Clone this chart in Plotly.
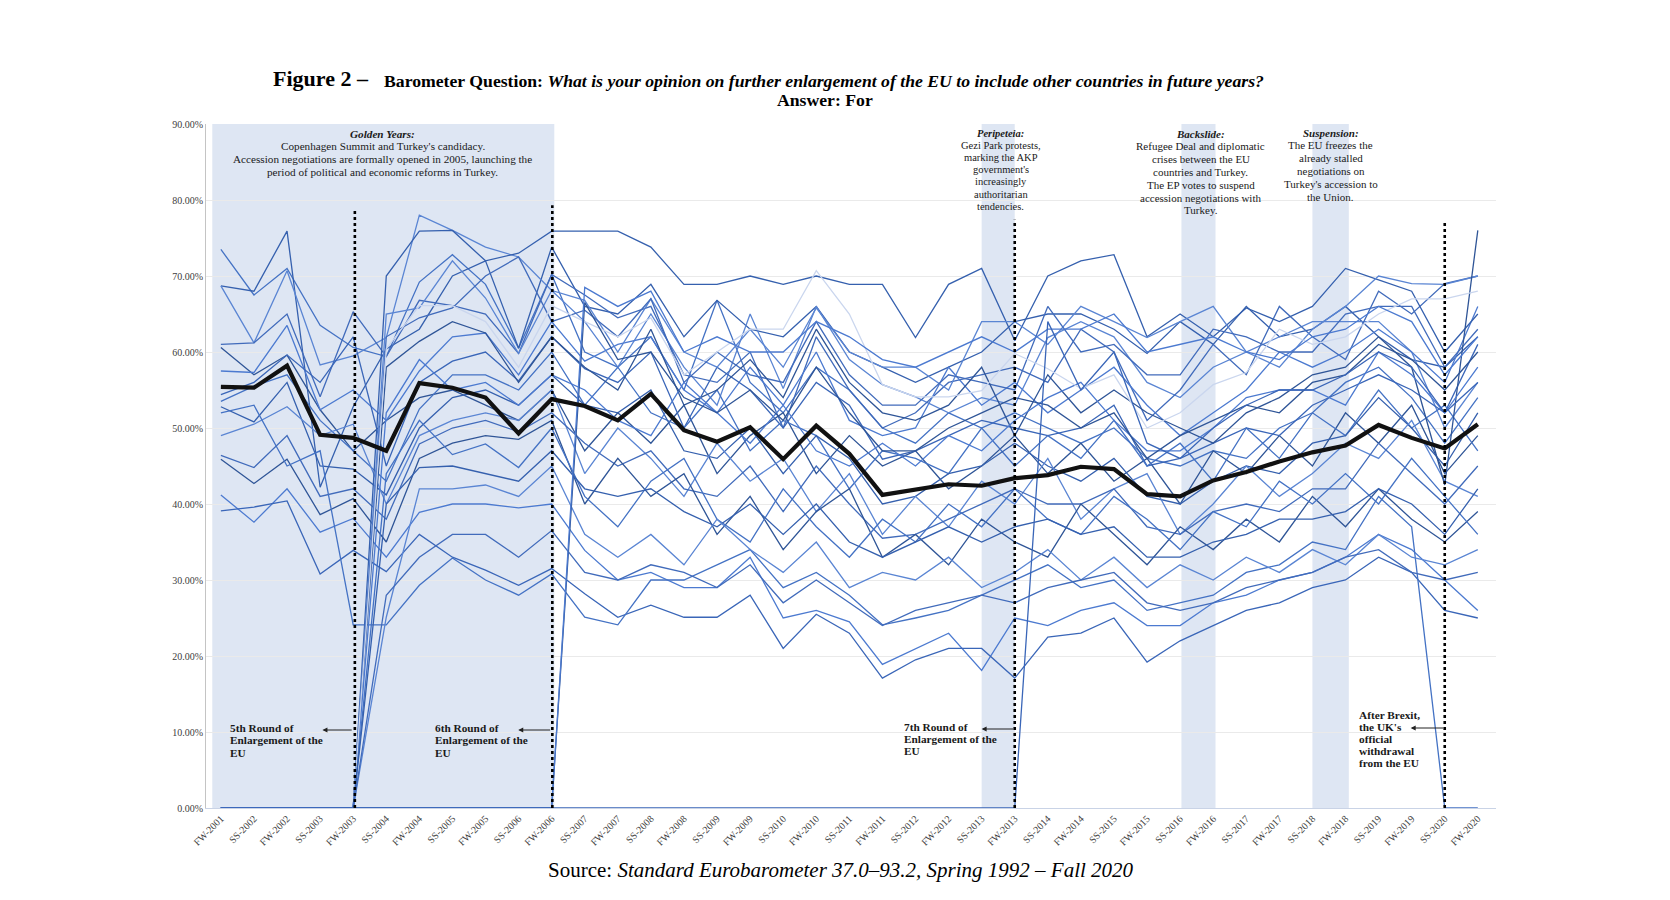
import plotly.graph_objects as go

periods = ["FW-2001","SS-2002","FW-2002","SS-2003","FW-2003","SS-2004","FW-2004","SS-2005","FW-2005","SS-2006",
           "FW-2006","SS-2007","FW-2007","SS-2008","FW-2008","SS-2009","FW-2009","SS-2010","FW-2010","SS-2011",
           "FW-2011","SS-2012","FW-2012","SS-2013","FW-2013","SS-2014","FW-2014","SS-2015","FW-2015","SS-2016",
           "FW-2016","SS-2017","FW-2017","SS-2018","FW-2018","SS-2019","FW-2019","SS-2020","FW-2020"]

# EU average ("For", %)
eu_average = [55.4,55.3,58.2,49.1,48.7,47.0,55.9,55.3,54.0,49.3,53.8, 52.9,51.0,54.5,49.7,48.2,50.1,45.9,50.3,46.6,41.2,
              41.9,42.6,42.4,43.4,43.8,44.9,44.6,41.3,41.0,43.1, 44.2,45.6,46.8,47.7,50.4,48.7,47.3,50.5]

# EU-15 member states
eu15_a = [73.5,67.5,71.0,63.5,60.6,59.4,69.2,72.8,68.9,60.5,70.2, 60.0,58.0,62.0,55.0,66.8,56.0,52.0,58.0,55.0,50.0, 48.0,52.0,50.0,52.0,50.0,48.0,50.0,46.0,45.0,47.0, 46.0,50.0,52.0,56.0,58.0,54.0,48.0,54.0]
eu15_b = [68.7,68.0,75.9,42.2,52.8,60.4,63.0,70.0,72.0,60.5,73.8, 66.0,65.0,68.9,62.0,66.8,63.0,62.0,66.0,60.0,58.0, 56.0,58.0,60.0,64.0,65.0,65.0,63.0,59.8,64.0,61.0, 66.0,62.0,63.0,66.0,62.0,59.0,58.0,62.0]
eu15_c = [68.7,61.2,70.7,58.3,59.5,61.9,78.0,76.0,73.8,72.5,68.1, 64.0,58.0,65.0,58.0,53.0,65.0,55.2,66.0,59.0,55.7, 54.1,52.0,54.0,53.0,61.9,64.0,62.0,56.0,54.0,58.0, 60.0,62.0,64.0,64.0,64.0,60.0,50.0,56.0]
eu15_d = [61.0,61.2,65.0,54.1,65.3,59.4,66.8,66.1,65.0,59.8,70.2, 67.5,64.5,66.0,57.0,56.0,60.0,50.0,62.0,55.0,50.0, 52.0,56.0,57.0,58.0,56.0,63.0,60.0,51.0,55.0,61.0, 57.0,66.0,62.0,59.0,68.0,65.0,69.0,70.0]
eu15_e = [60.6,57.0,59.6,52.4,47.0,51.0,54.0,55.0,53.0,51.0,55.0, 47.0,52.0,48.0,53.0,44.0,49.0,52.0,44.0,49.0,45.0, 47.0,42.0,45.0,49.0,44.0,48.0,43.0,46.0,40.0,47.0, 44.0,49.0,45.0,52.0,48.0,53.0,44.0,49.0]
eu15_f = [57.5,57.3,63.5,52.4,55.0,51.0,57.5,62.0,62.5,57.0,64.0, 58.8,61.0,62.0,55.0,52.0,58.0,53.0,60.0,51.0,49.0, 50.0,58.0,53.0,56.0,52.0,55.0,58.0,53.0,49.0,52.0, 55.0,60.0,58.0,60.0,63.0,60.0,56.0,66.0]
eu15_g = [54.4,56.0,59.6,56.0,62.0,45.0,56.0,58.8,60.0,56.2,62.0, 57.8,56.0,60.0,50.0,58.0,55.0,50.0,56.0,53.0,45.9, 47.0,49.0,51.0,50.0,49.0,50.0,53.0,45.0,46.0,48.0, 50.0,49.0,53.0,55.0,57.0,55.0,52.0,61.0]
eu15_h = [53.5,55.5,57.0,51.0,47.0,43.0,52.5,57.0,57.0,55.0,60.0, 53.0,58.0,52.0,50.0,55.0,47.0,51.0,49.0,42.0,47.0, 46.0,44.0,50.0,45.0,49.0,46.0,51.0,45.0,48.0,43.0, 50.0,46.0,52.0,49.0,55.0,50.0,53.0,47.0]
eu15_i = [52.8,50.8,56.0,45.0,44.6,41.2,50.0,54.0,55.0,53.0,57.0, 53.0,52.0,55.0,47.0,46.0,50.0,44.0,49.0,46.0,40.0, 41.0,44.0,45.0,48.0,45.0,43.0,46.0,41.0,40.0,43.0, 45.0,44.0,48.0,49.0,54.0,50.0,45.0,52.0]
eu15_j = [49.0,50.5,52.8,49.0,50.5,40.0,49.0,51.0,52.0,51.0,55.0, 44.0,50.0,46.0,41.0,48.0,43.0,46.0,39.0,44.0,36.0, 41.0,37.0,43.0,40.0,46.0,38.0,42.0,44.0,36.0,40.0, 45.0,41.0,44.0,48.0,46.0,51.0,43.0,41.0]
eu15_k = [46.4,44.8,49.0,41.0,42.0,38.0,47.9,50.0,51.0,49.5,52.0, 48.0,45.0,47.0,42.0,41.0,45.0,39.0,45.0,40.0,35.5, 36.0,38.0,40.0,42.0,40.0,40.0,42.0,37.0,36.0,39.0, 40.0,39.0,42.0,42.0,48.0,44.0,40.0,45.0]
eu15_l = [45.9,42.7,45.9,38.6,40.7,35.0,46.0,48.0,49.0,48.5,51.0, 40.0,46.0,41.0,44.0,36.0,41.0,34.0,39.0,42.0,33.0, 36.0,32.0,38.0,35.0,33.0,40.0,36.0,32.0,37.0,34.0, 38.0,35.0,41.0,37.0,42.0,38.0,35.0,39.0]
eu15_m = [41.2,37.6,42.0,36.3,38.1,33.0,38.9,40.0,40.0,39.5,40.0, 33.9,30.0,31.0,29.0,29.0,33.0,25.0,26.0,24.5,18.9, 21.0,23.0,18.1,25.0,24.0,26.0,27.0,24.0,24.0,27.0, 28.0,30.0,31.0,33.0,36.0,34.0,30.0,26.0]
eu15_n = [39.1,39.6,40.4,30.8,33.9,31.1,36.0,33.0,31.3,29.3,31.5, 28.2,25.1,26.7,25.1,25.1,28.0,21.0,25.5,23.0,17.1, 19.5,21.0,21.0,17.1,22.5,23.0,25.0,19.2,22.0,24.0, 26.0,27.0,29.0,30.0,33.0,31.0,26.0,25.0]
united_kingdom = [52.0,53.0,45.0,47.0,24.1,24.1,29.3,32.9,30.0,28.0,30.8, 25.1,24.1,30.0,30.0,32.0,34.0,29.0,31.0,28.0,24.1, 25.0,26.0,28.0,30.0,32.0,29.0,30.0,26.0,27.0,28.0, 31.0,32.0,35.0,34.0,41.0,37.0,0.0,0.0]

# 2004 enlargement members (0 before accession)
nm_a = [0,0,0,0,0,70.0,75.9,76.0,72.0,73.0,75.9, 75.9,75.9,73.8,68.9,68.9,70.0,68.9,70.0,68.9,68.9, 61.9,68.9,71.0,61.5,70.0,72.0,72.8,62.0,65.0,62.0, 65.8,64.0,66.0,71.0,69.5,68.0,60.0,65.0]
nm_b = [0,0,0,0,0,65.0,65.8,72.0,67.1,59.8,68.1, 66.8,60.0,67.0,60.0,58.0,63.0,58.0,65.8,60.0,58.0, 58.0,55.0,64.0,64.0,61.0,66.0,64.0,61.9,64.0,66.0, 60.0,58.0,63.0,66.0,70.0,69.0,68.9,70.0]
nm_c = [0,0,0,0,0,62.0,64.5,65.8,70.0,72.5,64.0, 65.5,62.0,67.0,56.0,60.0,57.0,56.0,64.0,57.0,53.0, 53.0,57.0,56.0,55.0,66.0,60.0,61.0,57.0,57.0,63.0, 62.0,60.0,60.0,65.0,66.0,66.0,58.0,63.0]
nm_d = [0,0,0,0,0,58.0,61.4,64.0,62.5,56.0,62.0, 58.0,55.0,63.0,53.0,55.0,59.0,54.0,63.0,56.0,52.0, 51.0,53.0,58.0,49.0,57.0,52.0,55.0,52.0,50.0,48.0, 52.0,54.0,57.0,58.0,62.0,58.0,42.5,76.0]
nm_e = [0,0,0,0,0,52.0,59.0,55.0,56.0,53.0,57.0, 55.0,51.0,49.0,56.0,52.0,48.0,53.0,47.0,45.0,48.0, 45.0,49.0,47.0,51.0,54.0,56.0,51.0,47.0,47.0,50.0, 54.0,55.0,55.0,53.0,60.0,57.0,52.0,58.0]
nm_f = [0,0,0,0,0,60.4,66.1,66.1,64.0,58.0,66.1, 64.0,62.0,64.5,57.0,60.0,63.0,63.0,70.7,65.0,55.7, 54.1,54.1,54.9,59.8,57.8,55.2,57.0,50.0,52.0,55.7, 57.3,63.0,61.0,62.0,65.0,67.0,67.0,68.0]
nm_g = [0,0,0,0,0,44.0,51.0,46.5,47.9,44.8,50.0, 41.0,37.0,43.0,46.0,38.0,35.0,42.0,37.0,33.0,38.0, 35.0,40.0,37.0,42.0,38.0,36.0,41.0,38.0,34.0,39.0, 37.0,43.0,40.0,44.0,40.0,46.0,41.0,36.0]
nm_h = [0,0,0,0,0,40.0,44.8,45.0,44.0,43.0,47.0, 42.0,41.0,42.0,39.0,37.0,40.0,36.0,40.0,35.0,33.0, 35.0,37.0,35.0,37.0,38.0,36.0,37.0,33.0,33.0,35.0, 36.0,38.0,38.0,39.0,42.0,40.0,36.0,42.0]
nm_i = [0,0,0,0,0,25.1,42.0,42.0,42.5,41.0,45.0, 36.0,33.0,36.0,32.0,38.0,34.0,31.0,35.0,29.0,31.0, 30.0,33.0,29.0,31.0,34.0,30.0,33.0,29.0,32.0,30.0, 33.0,31.0,34.0,32.0,36.0,33.0,32.0,34.0]
nm_j = [0,0,0,0,0,28.0,33.0,36.0,36.0,33.0,36.5, 31.0,30.0,32.0,31.0,29.0,32.0,27.0,30.0,27.0,24.0, 26.0,27.0,28.0,27.0,29.0,30.0,31.0,27.0,26.0,27.0, 29.0,30.0,31.0,33.0,34.0,31.0,30.0,31.0]

# 2007 enlargement
bulgaria = [0,0,0,0,0,0,0,0,0,0,0, 66.5,59.0,60.0,54.0,52.0,55.0,51.0,58.0,52.0,47.0, 47.0,50.0,52.0,54.0,53.0,50.0,52.0,46.0,49.0,51.0, 53.0,52.0,56.0,57.0,61.0,59.0,55.0,60.0]
romania = [0,0,0,0,0,0,0,0,0,0,0, 68.5,66.0,68.0,60.0,62.0,60.0,60.0,64.0,62.0,59.0, 58.0,60.0,62.0,60.0,63.0,63.0,65.0,60.0,61.0,62.0, 60.0,59.0,62.0,63.0,66.0,64.0,57.0,62.0]
# 2013 enlargement
croatia = [0,0,0,0,0,0,0,0,0,0,0, 0,0,0,0,0,0,0,0,0,0, 0,0,0,0,64.0,55.0,60.0,48.0,46.0,50.0, 53.0,55.0,55.0,57.0,60.0,58.0,52.0,56.0]

country_series = [eu15_a, eu15_b, eu15_c, eu15_d, eu15_e, eu15_f, eu15_g, eu15_h, eu15_i, eu15_j,
                  eu15_k, eu15_l, eu15_m, eu15_n, united_kingdom,
                  nm_a, nm_b, nm_c, nm_d, nm_e, nm_f, nm_g, nm_h, nm_i, nm_j,
                  bulgaria, romania, croatia]
light_series = [nm_f]

palette = ["#4472C4", "#3560AE", "#5A85D3", "#416BBB", "#2F5597", "#4C7AD0", "#3A66B8"]
light_color = "#CAD6EE"
band_color = "#DEE6F3"
serif = "Liberation Serif"

# screen geometry of the plot area (page has an 8px body margin)
PLOT_TOP = 123.5   # on-screen y of the 90% line
PX_PER_UNIT = 760  # pixels per 1.0 of y

def y_at(screen_y):
    return 0.9 - (screen_y - PLOT_TOP) / PX_PER_UNIT

fig = go.Figure()
for i, s in enumerate(country_series):
    col = light_color if any(s is l for l in light_series) else palette[i % len(palette)]
    fig.add_trace(go.Scatter(x=periods, y=[v / 100 for v in s], mode="lines",
                             line=dict(color=col, width=1.3), showlegend=False, hoverinfo="skip"))
fig.add_trace(go.Scatter(x=periods, y=[v / 100 for v in eu_average], mode="lines",
                         line=dict(color="#111111", width=4.2), showlegend=False, hoverinfo="skip"))

# shaded periods
for x0, x1 in [(-0.26, 10.08), (23.0, 24.0), (29.04, 30.07), (33.0, 34.1)]:
    fig.add_shape(type="rect", xref="x", yref="y", x0=x0, x1=x1, y0=0, y1=0.9,
                  fillcolor=band_color, line_width=0, layer="below")

# dotted enlargement markers
for xv, top in [(4.05, 0.787), (10.02, 0.793), (24.0, 0.774), (37.0, 0.772)]:
    fig.add_shape(type="line", xref="x", yref="y", x0=xv, x1=xv, y0=0, y1=top,
                  line=dict(color="black", width=2.6, dash="dot"), layer="above")

ann = []
def txt(x, y, text, size=11, xanchor="center", yanchor="middle", align="center", xref="x", yref="y", color="#1a1a1a"):
    ann.append(dict(x=x, y=y, xref=xref, yref=yref, text=text, showarrow=False, xanchor=xanchor,
                    yanchor=yanchor, align=align, font=dict(family=serif, size=size, color=color)))

def block(x, first_y, spacing, lines, size=11, xanchor="center"):
    for k, line in enumerate(lines):
        txt(x, y_at(first_y + k * spacing), line, size=size, xanchor=xanchor,
            align="left" if xanchor == "left" else "center")

block(4.9, 133, 12.8, ["<b><i>Golden Years:</i></b>", "Copenhagen Summit and Turkey's candidacy.",
                       "Accession negotiations are formally opened in 2005, launching the",
                       "period of political and economic reforms in Turkey."], size=11.2)
block(23.57, 133, 12.1, ["<b><i>Peripeteia:</i></b>", "Gezi Park protests,", "marking the AKP", "government's",
                         "increasingly", "authoritarian", "tendencies."], size=10.5)
block(29.62, 133, 12.8, ["<b><i>Backslide:</i></b>", "Refugee Deal and diplomatic", "crises between the EU",
                         "countries and Turkey.", "The EP votes to suspend", "accession negotiations with",
                         "Turkey."], size=11)
block(33.55, 132, 12.8, ["<b><i>Suspension:</i></b>", "The EU freezes the", "already stalled", "negotiations on",
                         "Turkey's accession to", "the Union."], size=11)

block(0.2, 727, 12.8, ["<b>5th Round of</b>", "<b>Enlargement of the</b>", "<b>EU</b>"], size=11.3, xanchor="left")
block(6.41, 727, 12.8, ["<b>6th Round of</b>", "<b>Enlargement of the</b>", "<b>EU</b>"], size=11.3, xanchor="left")
block(20.58, 726, 12.4, ["<b>7th Round of</b>", "<b>Enlargement of the</b>", "<b>EU</b>"], size=11.3, xanchor="left")
block(34.36, 714, 12.2, ["<b>After Brexit,</b>", "<b>the UK's</b>", "<b>official</b>", "<b>withdrawal</b>",
                         "<b>from the EU</b>"], size=11.3, xanchor="left")

for tip, tail, sy in [(3.07, 4.0, 729.5), (8.99, 10.0, 729.5), (23.0, 24.0, 728.5), (35.97, 37.0, 727.5)]:
    yv = y_at(sy)
    ann.append(dict(x=tip, y=yv, ax=tail, ay=yv, xref="x", yref="y", axref="x", ayref="y", text="",
                    showarrow=True, arrowhead=2, arrowsize=1, arrowwidth=1, arrowcolor="#222222"))

# titles
txt(0.0505, 1.066, "<b>Figure 2 –</b>", size=22, xanchor="left", xref="paper", yref="paper", color="black")
txt(0.1367, 1.063, "<b>Barometer Question: <i>What is your opinion on further enlargement of the EU to include "
    "other countries in future years?</i></b>", size=17.7, xanchor="left", xref="paper", yref="paper", color="black")
txt(0.4798, 1.035, "<b>Answer: For</b>", size=17.7, xanchor="center", xref="paper", yref="paper", color="black")
txt(0.4922, -0.091, "Source: <i>Standard Eurobarometer 37.0–93.2, Spring 1992 – Fall 2020</i>", size=21,
    xanchor="center", xref="paper", yref="paper", color="black")

fig.update_layout(
    width=1670, height=900,
    margin=dict(l=198, r=182, t=116, b=100),
    paper_bgcolor="white", plot_bgcolor="white",
    annotations=ann,
    font=dict(family=serif, color="#404040"),
    xaxis=dict(type="category", range=[-0.45, 38.55], tickangle=-45, showgrid=False,
               tickfont=dict(family=serif, size=10, color="#404040"), showline=True,
               linecolor="#C9D3E6", linewidth=1, ticks=""),
    yaxis=dict(range=[0, 0.9], tickvals=[i / 10 for i in range(10)], tickformat=".2%",
               tickfont=dict(family=serif, size=10, color="#404040"), showgrid=True,
               gridcolor="#EAEAEA", gridwidth=1, showline=True, linecolor="#C4C4C4", linewidth=1,
               zeroline=False, ticks=""),
)

fig.write_html("out.html")
